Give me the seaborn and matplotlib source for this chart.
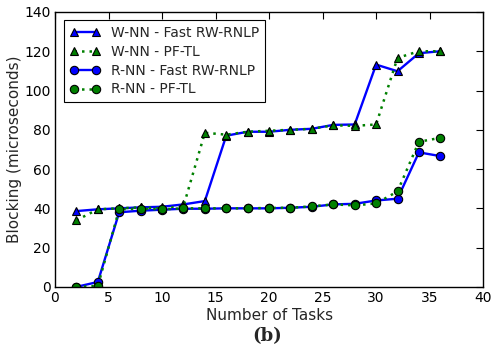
import matplotlib
matplotlib.use("Agg")
import matplotlib.pyplot as plt
import seaborn as sns
import pandas as pd

tasks = [2, 4, 6, 8, 10, 12, 14, 16, 18, 20, 22, 24, 26, 28, 30, 32, 34, 36]
wnn_fast = [38.6, 39.5, 40.0, 40.5, 40.8, 42.0, 43.7, 77.0, 79.0, 79.0, 80.0, 80.5, 82.5, 82.7, 113.2, 109.8, 119.0, 120.0]
wnn_pftl = [33.9, 39.5, 40.0, 40.5, 40.0, 41.0, 78.5, 77.5, 79.0, 79.5, 80.0, 80.5, 82.3, 82.0, 82.7, 116.6, 120.0, 120.0]
rnn_fast = [0.0, 2.5, 38.0, 38.8, 39.3, 39.8, 39.8, 40.0, 40.0, 40.0, 40.3, 40.8, 42.0, 42.3, 44.0, 44.9, 68.5, 66.6]
rnn_pftl = [0.0, 0.5, 39.5, 39.8, 39.5, 40.0, 40.0, 40.0, 40.0, 40.2, 40.3, 41.0, 42.0, 41.5, 42.5, 48.6, 73.9, 75.9]

# (label, values, colour, dash pattern or None for solid, marker, line width)
series = [
    ("W-NN - Fast RW-RNLP", wnn_fast, "blue", None, "^", 1.7),
    ("W-NN - PF-TL", wnn_pftl, "green", (1.0, 2.0), "^", 1.8),
    ("R-NN - Fast RW-RNLP", rnn_fast, "blue", None, "o", 1.7),
    ("R-NN - PF-TL", rnn_pftl, "green", (1.0, 2.0), "o", 1.8),
]

sns.set_style("white")
plt.rcParams["font.family"] = ["DejaVu Sans"]

fig = plt.figure(figsize=(4.91, 3.52), dpi=100)
ax = fig.add_axes([0.112, 0.185, 0.872, 0.781])

for label, vals, color, dash, mk, lw in series:
    df = pd.DataFrame({"tasks": tasks, "blocking": vals})
    sns.lineplot(data=df, x="tasks", y="blocking", ax=ax, color=color,
                 marker=mk, markersize=6, markeredgecolor="black",
                 markeredgewidth=0.8, markerfacecolor=color, linewidth=lw,
                 label=label)
    line = ax.get_lines()[-1]
    if dash is not None:
        line.set_dashes(dash)

ax.set_xlim(0, 40)
ax.set_ylim(0, 140)
ax.set_xticks(range(0, 41, 5))
ax.set_yticks(range(0, 141, 20))
ax.tick_params(direction="in", top=True, right=True, length=5, width=0.8,
               labelsize=10, colors="black", pad=3)
for s in ax.spines.values():
    s.set_color("black")
    s.set_linewidth(1.0)

ax.set_xlabel("Number of Tasks", fontsize=11, labelpad=2)
ax.set_ylabel("Blocking (microseconds)", fontsize=11, labelpad=2)

handles, labels = ax.get_legend_handles_labels()
for h, (_, _, _, dash, _, _) in zip(handles, series):
    if dash is not None:
        h.set_dashes(dash)
leg = ax.legend(handles, labels, loc="upper left", numpoints=2, fontsize=10,
                frameon=True, fancybox=False, edgecolor="black", framealpha=1,
                handlelength=2.2, borderpad=0.4, labelspacing=0.35,
                bbox_to_anchor=(0.005, 0.995))
leg.get_frame().set_linewidth(0.8)

fig.text(0.545, 0.045, "(b)", ha="center", va="center", fontsize=13,
         fontweight="bold", family=["DejaVu Serif"])

fig.savefig("out.png", dpi=100)
